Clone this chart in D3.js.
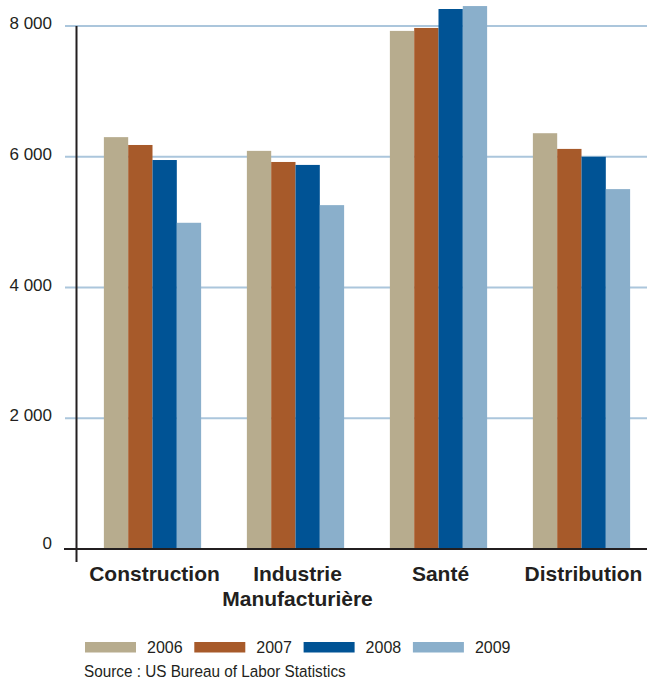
<!DOCTYPE html>
<html>
<head>
<meta charset="utf-8">
<script src="https://cdn.jsdelivr.net/npm/d3@7"></script>
<style>
  html, body { margin: 0; padding: 0; background: #fff; }
  svg { display: block; }
  text { font-family: 'Liberation Sans', Arial, Helvetica, sans-serif; }
</style>
</head>
<body>
<svg id="chart" width="647" height="689"></svg>
<script>
const categories = ["Construction", "Industrie Manufacturière", "Santé", "Distribution"];
const categoryLines = [["Construction"], ["Industrie", "Manufacturière"], ["Santé"], ["Distribution"]];
const years = ["2006", "2007", "2008", "2009"];
const v2006 = [6300, 6090, 7925, 6360];
const v2007 = [6180, 5920, 7970, 6120];
const v2008 = [5950, 5875, 8260, 6000];
const v2009 = [4990, 5260, 8305, 5505];
const yTicks = [0, 2000, 4000, 6000, 8000];
const colors = ["#b7ac8e", "#a75a2a", "#005395", "#8aafcb"];
const sourceText = "Source : US Bureau of Labor Statistics";

const series = [v2006, v2007, v2008, v2009];
const svg = d3.select("#chart");

const y = d3.scaleLinear().domain([0, 8000]).range([549, 26]);
const x0 = d3.scaleBand().domain(categories).range([81, 653]).paddingInner(0.32).paddingOuter(0.16);
const x1 = d3.scaleBand().domain(years).range([0, x0.bandwidth()]).padding(0);
const color = d3.scaleOrdinal().domain(years).range(colors);
const fmt = d3.formatLocale({decimal: ",", thousands: " ", grouping: [3], currency: ["", ""]}).format(",d");

// gridlines
svg.append("g").selectAll("line").data(yTicks.filter(d => d > 0)).join("line")
  .attr("x1", 65).attr("x2", 647)
  .attr("y1", d => y(d)).attr("y2", d => y(d))
  .attr("stroke", "#abc6dc").attr("stroke-width", 2);

// tick labels
svg.append("g").selectAll("text").data(yTicks).join("text")
  .attr("x", 52).attr("y", d => y(d) + (d === 0 ? 0 : 3))
  .attr("text-anchor", "end")
  .attr("font-size", 17)
  .attr("fill", "#231f20")
  .text(d => fmt(d));

// bars
const groups = svg.append("g").selectAll("g").data(categories).join("g")
  .attr("transform", c => `translate(${x0(c)},0)`);
groups.selectAll("rect")
  .data((c, i) => years.map((yr, j) => ({yr, v: series[j][i]})))
  .join("rect")
  .attr("x", d => x1(d.yr))
  .attr("width", x1.bandwidth())
  .attr("y", d => y(d.v))
  .attr("height", d => y(0) - y(d.v))
  .attr("fill", d => color(d.yr));

// axes
svg.append("line").attr("x1", 76.5).attr("x2", 76.5).attr("y1", 26).attr("y2", 562)
  .attr("stroke", "#231f20").attr("stroke-width", 2);
svg.append("line").attr("x1", 64).attr("x2", 647).attr("y1", y(0)).attr("y2", y(0))
  .attr("stroke", "#231f20").attr("stroke-width", 2);

// category labels
const lab = svg.append("g").selectAll("text").data(categories).join("text")
  .attr("text-anchor", "middle")
  .attr("font-size", 21).attr("font-weight", "bold")
  .attr("fill", "#231f20")
  .attr("transform", c => `translate(${x0(c) + x0.bandwidth() / 2 + 2},581)`);
lab.selectAll("tspan").data((c, i) => categoryLines[i]).join("tspan")
  .attr("x", 0).attr("y", (d, k) => k * 24.5).text(d => d);

// legend
const leg = svg.append("g").selectAll("g").data(years).join("g")
  .attr("transform", (d, i) => `translate(${85 + i * 109.3},642)`);
leg.append("rect").attr("width", 51).attr("height", 10.5).attr("fill", d => color(d));
leg.append("text")
  .attr("x", 62).attr("y", 11)
  .attr("font-size", 16).attr("fill", "#231f20").text(d => d);

// source
svg.append("text")
  .attr("transform", "translate(84,677) scale(0.9,1)")
  .attr("font-size", 17).attr("fill", "#231f20")
  .text(sourceText);
</script>
</body>
</html>
